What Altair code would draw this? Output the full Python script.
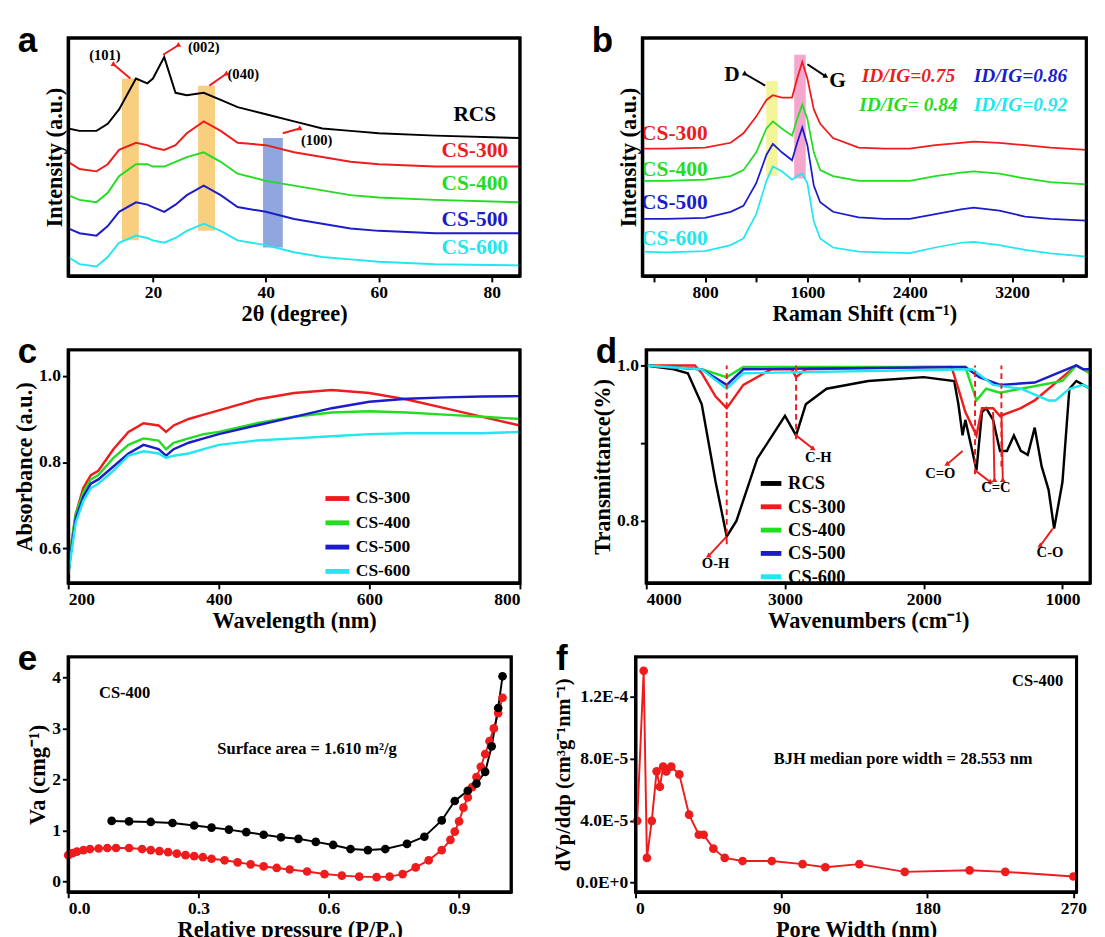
import altair as alt
import pandas as pd

SERIF = 'Liberation Serif'
SANS = 'Liberation Sans'
COLORS = {'RCS': 'black', 'CS-300': '#ee1c1c', 'CS-400': '#22dd22', 'CS-500': '#1c1ccc', 'CS-600': '#22e6f0'}
NAMES = ['RCS', 'CS-300', 'CS-400', 'CS-500', 'CS-600']

# ---- panel a: XRD
xrd_x = [5, 7, 10, 12, 14, 17, 19, 20, 22, 24, 26, 29, 32, 35, 40, 45, 50, 55, 60, 70, 85]
xrd = {
    'RCS':    [6.2, 6.1, 6.1, 6.4, 7.0, 8.3, 8.1, 8.3, 9.2, 7.7, 7.6, 7.7, 7.4, 7.1, 6.8, 6.5, 6.2, 6.1, 6.0, 5.9, 5.8],
    'CS-300': [4.8, 4.5, 4.4, 4.7, 5.3, 5.6, 5.5, 5.4, 5.3, 5.5, 6.0, 6.5, 6.1, 5.6, 5.5, 5.2, 5.0, 4.8, 4.7, 4.6, 4.6],
    'CS-400': [3.4, 3.2, 3.1, 3.5, 4.2, 4.7, 4.7, 4.6, 4.6, 4.8, 5.0, 5.2, 4.8, 4.3, 4.0, 3.8, 3.6, 3.4, 3.3, 3.2, 3.1],
    'CS-500': [2.0, 1.8, 1.7, 2.1, 2.7, 3.1, 3.0, 2.9, 2.7, 3.0, 3.4, 3.8, 3.4, 2.9, 2.7, 2.4, 2.2, 2.0, 1.9, 1.8, 1.8],
    'CS-600': [0.8, 0.5, 0.4, 0.8, 1.4, 1.7, 1.6, 1.5, 1.4, 1.6, 1.9, 2.2, 1.9, 1.5, 1.3, 1.0, 0.8, 0.7, 0.6, 0.5, 0.45],
}
xrd_lab_y = [6.8, 5.3, 3.9, 2.4, 1.2]
xrd_box = pd.DataFrame({'x': [14.5, 28.0, 39.5], 'x2': [17.5, 31.0, 43.0], 'y': [1.5, 1.9, 1.2], 'y2': [8.3, 8.0, 5.8],
                        'c': ['#f5b53a', '#f5b53a', '#5577cc']})
xrd_hkl = pd.DataFrame({'t': ['(101)', '(002)', '(040)', '(100)'], 'x': [11.5, 29, 36, 49], 'y': [9.3, 9.6, 8.5, 5.7]})
xrd_arrow = pd.DataFrame({'x': [16, 21.8, 30, 43], 'y': [8.3, 9.3, 8.0, 6.0], 'x2': [13, 24.5, 33, 46], 'y2': [8.9, 9.7, 8.5, 6.2]})

# ---- panel b: Raman
ram_x = [310, 500, 800, 1000, 1100, 1200, 1280, 1330, 1400, 1480, 1520, 1560, 1600, 1650, 1700, 1800, 2000, 2200,
         2400, 2600, 2800, 2900, 3100, 3300, 3500, 3780]
ram = {
    'CS-300': [5.35, 5.35, 5.4, 5.6, 6.0, 6.7, 7.4, 7.6, 7.5, 7.5, 8.3, 9.0, 8.3, 7.0, 6.4, 5.8, 5.4, 5.35, 5.35, 5.5, 5.6, 5.65, 5.6, 5.5, 5.4, 5.3],
    'CS-400': [4.0, 4.0, 4.05, 4.2, 4.45, 5.2, 6.2, 6.5, 6.2, 5.9, 6.6, 7.2, 6.6, 5.2, 4.45, 4.2, 4.0, 4.0, 4.0, 4.2, 4.35, 4.4, 4.3, 4.1, 3.95, 3.85],
    'CS-500': [2.4, 2.4, 2.45, 2.7, 2.95, 3.9, 5.1, 5.55, 5.2, 4.87, 5.6, 6.24, 5.5, 3.8, 3.1, 2.7, 2.47, 2.4, 2.4, 2.6, 2.8, 2.88, 2.75, 2.5, 2.4, 2.33],
    'CS-600': [1.03, 1.0, 1.05, 1.3, 1.58, 2.6, 4.0, 4.6, 4.4, 4.05, 4.2, 4.3, 3.9, 2.3, 1.58, 1.2, 1.03, 1.0, 0.96, 1.2, 1.4, 1.44, 1.3, 1.1, 0.95, 0.82],
}
ram_lab_y = [6.0, 4.5, 3.1, 1.6]
ram_box = pd.DataFrame({'x': [1278, 1497], 'x2': [1368, 1587], 'y': [4.2, 4.1], 'y2': [8.2, 9.3], 'c': ['#f0f070', '#f080b8']})
ratio = pd.DataFrame({'t': ['ID/IG=0.75', 'ID/IG=0.86', 'ID/IG= 0.84', 'ID/IG=0.92'],
                      'x': [2390, 3265, 2390, 3265], 'y': [8.4, 8.4, 7.2, 7.2],
                      'c': ['CS-300', 'CS-500', 'CS-400', 'CS-600']})
ram_arrow = pd.DataFrame({'x': [1270, 1600], 'y': [8.0, 8.9], 'x2': [1110, 1740], 'y2': [8.5, 8.4]})

# ---- panel c: UV-vis absorbance
uv_x = [200, 205, 210, 220, 230, 240, 260, 280, 300, 320, 330, 340, 360, 380, 400, 450, 500, 550, 600, 650, 700, 750, 800]
uv = {
    'CS-300': [0.54, 0.62, 0.68, 0.74, 0.77, 0.78, 0.83, 0.87, 0.89, 0.885, 0.87, 0.885, 0.90, 0.91, 0.92, 0.945, 0.96, 0.967, 0.96, 0.945, 0.925, 0.905, 0.885],
    'CS-400': [0.54, 0.62, 0.68, 0.73, 0.76, 0.77, 0.81, 0.84, 0.855, 0.85, 0.83, 0.845, 0.855, 0.865, 0.87, 0.89, 0.905, 0.915, 0.918, 0.915, 0.91, 0.905, 0.90],
    'CS-500': [0.54, 0.61, 0.67, 0.72, 0.75, 0.76, 0.79, 0.82, 0.84, 0.83, 0.815, 0.83, 0.845, 0.855, 0.865, 0.885, 0.905, 0.925, 0.94, 0.947, 0.95, 0.952, 0.953],
    'CS-600': [0.54, 0.60, 0.66, 0.71, 0.74, 0.75, 0.78, 0.815, 0.825, 0.82, 0.81, 0.815, 0.82, 0.83, 0.84, 0.85, 0.855, 0.86, 0.865, 0.867, 0.867, 0.867, 0.87],
}

# ---- panel d: FTIR
ir = {
    'RCS': ([4000, 3800, 3700, 3600, 3500, 3420, 3350, 3200, 3000, 2920, 2850, 2700, 2400, 2000, 1780, 1750, 1720, 1700,
             1650, 1620, 1580, 1550, 1500, 1450, 1400, 1350, 1300, 1250, 1200, 1150, 1100, 1060, 1000, 950, 900, 850, 800],
            [1.0, 0.995, 0.99, 0.95, 0.85, 0.78, 0.80, 0.88, 0.935, 0.91, 0.95, 0.97, 0.98, 0.985, 0.98, 0.95, 0.91, 0.93,
             0.89, 0.865, 0.94, 0.945, 0.93, 0.89, 0.89, 0.91, 0.89, 0.885, 0.92, 0.87, 0.84, 0.79, 0.85, 0.97, 0.98, 0.975, 0.97]),
    'CS-300': ([4000, 3650, 3600, 3500, 3420, 3300, 3100, 2950, 2920, 2850, 2000, 1800, 1750, 1700, 1620, 1580, 1500,
                1450, 1300, 1200, 1000, 900, 800],
               [1.0, 1.0, 0.99, 0.96, 0.945, 0.975, 0.995, 0.995, 0.985, 0.995, 0.998, 0.998, 0.97, 0.94, 0.91, 0.945,
                0.945, 0.935, 0.945, 0.955, 0.985, 1.0, 0.99]),
    'CS-400': ([4000, 3600, 3420, 3300, 1700, 1620, 1550, 1450, 1300, 1000, 900, 800],
               [1.0, 0.995, 0.985, 0.998, 0.998, 0.955, 0.97, 0.965, 0.97, 0.98, 1.0, 0.99]),
    'CS-500': ([4000, 3600, 3420, 3300, 1700, 1600, 1450, 1200, 900, 850, 800],
               [1.0, 0.995, 0.975, 0.995, 0.998, 0.985, 0.975, 0.978, 1.0, 0.995, 0.995]),
    'CS-600': ([4000, 3600, 3420, 3300, 1650, 1500, 1300, 1100, 1050, 950, 850, 800],
               [1.0, 0.995, 0.97, 0.99, 0.995, 0.975, 0.97, 0.955, 0.955, 0.97, 0.975, 0.97]),
}
ir_marks = pd.DataFrame({'x': [3420, 2920, 1630, 1440], 'y': [0.77, 0.905, 0.86, 0.87]})
ir_labels = pd.DataFrame({'t': ['O-H', 'C-H', 'C=O', 'C=C', 'C-O'], 'x': [3500, 2760, 1880, 1480, 1090],
                          'y': [0.745, 0.882, 0.862, 0.843, 0.76]})
ir_arrow = pd.DataFrame({'x': [3420, 2920, 1720, 1630, 1500, 1440, 1070], 'y': [0.78, 0.91, 0.89, 0.865, 0.94, 0.94, 0.79],
                         'x2': [3550, 2800, 1830, 1520, 1490, 1430, 1160], 'y2': [0.755, 0.893, 0.873, 0.85, 0.852, 0.852, 0.768]})

# ---- panel e: N2 isotherm
iso_ads_x = [0.0, 0.01, 0.02, 0.035, 0.05, 0.07, 0.09, 0.11, 0.14, 0.17, 0.19, 0.21, 0.23, 0.25, 0.27, 0.29, 0.31, 0.33,
             0.36, 0.39, 0.42, 0.45, 0.48, 0.51, 0.55, 0.59, 0.63, 0.67, 0.71, 0.74, 0.77, 0.80, 0.83, 0.86, 0.88, 0.89,
             0.90, 0.91, 0.92, 0.93, 0.94, 0.95, 0.96, 0.97, 0.98, 0.99, 1.0]
iso_ads_y = [0.52, 0.56, 0.59, 0.62, 0.64, 0.65, 0.66, 0.66, 0.66, 0.64, 0.62, 0.60, 0.58, 0.55, 0.52, 0.50, 0.48, 0.45,
             0.42, 0.38, 0.34, 0.30, 0.27, 0.24, 0.20, 0.15, 0.12, 0.10, 0.09, 0.10, 0.15, 0.28, 0.42, 0.62, 0.82, 0.98,
             1.18, 1.45, 1.65, 1.85, 2.05, 2.25, 2.5, 2.75, 3.0, 3.3, 3.6]
iso_des_x = [0.10, 0.14, 0.19, 0.24, 0.29, 0.33, 0.37, 0.41, 0.45, 0.49, 0.53, 0.57, 0.61, 0.65, 0.69, 0.73, 0.78, 0.82,
             0.86, 0.89, 0.92, 0.94, 0.96, 0.975, 0.99, 1.0]
iso_des_y = [1.19, 1.18, 1.17, 1.15, 1.10, 1.06, 1.02, 0.97, 0.92, 0.87, 0.84, 0.78, 0.72, 0.64, 0.62, 0.64, 0.74, 0.88,
             1.20, 1.58, 1.78, 1.92, 2.15, 2.65, 3.4, 4.02]

# ---- panel f: BJH pore distribution
pore_w = [1, 5, 7, 10, 13, 15, 17, 19, 22, 27, 33, 39, 42, 48, 55, 66, 84, 103, 117, 138, 166, 206, 228, 270]
pore_v = [4.0e-5, 1.37e-4, 1.6e-5, 4.0e-5, 7.2e-5, 6.2e-5, 7.5e-5, 7.2e-5, 7.5e-5, 7.0e-5, 4.4e-5, 3.1e-5, 3.1e-5,
          2.2e-5, 1.6e-5, 1.4e-5, 1.4e-5, 1.2e-5, 1.0e-5, 1.2e-5, 0.7e-5, 0.8e-5, 0.7e-5, 0.4e-5]


def long(xs, series):
    rows = []
    for name, ys in series.items():
        xx = xs[name][0] if isinstance(xs, dict) else xs
        yy = xs[name][1] if isinstance(xs, dict) else ys
        for i, (a, b) in enumerate(zip(xx, yy)):
            rows.append({'x': a, 'y': b, 's': name, 'i': i})
    return pd.DataFrame(rows)


def cscale(names):
    return alt.Scale(domain=names, range=[COLORS[n] for n in names])


def arrows(df, color='#ee1c1c'):
    # short pointer lines from the peaks to their labels, with a small head at the label end
    seg = alt.Chart(df).mark_rule(color=color, strokeWidth=2).encode(x='x:Q', y='y:Q', x2='x2:Q', y2='y2:Q')
    head = alt.Chart(df).mark_point(shape='triangle', filled=True, color=color, size=35, opacity=1).encode(
        x='x2:Q', y='y2:Q')
    return seg + head


def deco(ch, xd, yd, dx=-52):
    # thick black frame round the plot area (scale domain corners) plus the panel letter
    corners = pd.DataFrame({'x': [xd[0]], 'x2': [xd[1]], 'y': [yd[0]], 'y2': [yd[1]]})
    frame = alt.Chart(corners).mark_rect(filled=False, stroke='black', strokeWidth=3, fillOpacity=0).encode(
        x='x:Q', x2='x2:Q', y='y:Q', y2='y2:Q')
    lab = alt.Chart(pd.DataFrame({'t': [ch]})).mark_text(
        font=SANS, fontWeight='bold', fontSize=36, align='left', baseline='top').encode(
        x=alt.value(dx), y=alt.value(-14), text='t:N')
    return frame + lab


WA, WB = 465, 457
HA, HC, HE = 245, 240, 242
XA, YA = [5, 85], [0, 10]
XB, YB = [310, 3780], [0, 10]
XC, YC = [200, 800], [0.52, 1.06]
XD, YD = [4000, 800], [0.72, 1.02]
XE, YE = [0, 1.02], [-0.2, 4.4]
XF, YF = [0, 272], [-0.6e-5, 1.46e-4]

# a
xs_a = alt.X('x:Q', scale=alt.Scale(domain=XA, nice=False), title='2θ (degree)', axis=alt.Axis(values=[20, 40, 60, 80]))
ys_a = alt.Y('y:Q', scale=alt.Scale(domain=YA), title='Intensity (a.u.)', axis=alt.Axis(labels=False, ticks=False))
boxes_a = alt.Chart(xrd_box).mark_rect(opacity=0.65).encode(x=xs_a, x2='x2', y=ys_a, y2='y2', color=alt.Color('c:N', scale=None))
lines_a = alt.Chart(long(xrd_x, xrd)).mark_line(strokeWidth=2).encode(
    x=xs_a, y=ys_a, order='i:Q', color=alt.Color('s:N', scale=cscale(NAMES), legend=None))
labs_a = alt.Chart(pd.DataFrame({'t': NAMES, 'x': [77] * 5, 'y': xrd_lab_y})).mark_text(
    font=SERIF, fontWeight='bold', fontSize=22).encode(
    x='x:Q', y='y:Q', text='t:N', color=alt.Color('t:N', scale=cscale(NAMES), legend=None))
hkl_a = alt.Chart(xrd_hkl).mark_text(font=SERIF, fontWeight='bold', fontSize=15).encode(x='x:Q', y='y:Q', text='t:N')
pa = alt.layer(boxes_a, lines_a, labs_a, hkl_a, arrows(xrd_arrow), deco('a', XA, YA)).properties(width=WA, height=HA)

# b
names_b = NAMES[1:]
xs_b = alt.X('x:Q', scale=alt.Scale(domain=XB, nice=False), title='Raman Shift (cm⁻¹)',
             axis=alt.Axis(values=[400, 800, 1200, 1600, 2000, 2400, 2800, 3200, 3600],
                           labelExpr="datum.value % 800 == 0 ? datum.value : ''"))
ys_b = alt.Y('y:Q', scale=alt.Scale(domain=YB), title='Intensity (a.u.)', axis=alt.Axis(labels=False, ticks=False))
boxes_b = alt.Chart(ram_box).mark_rect(opacity=0.7).encode(x=xs_b, x2='x2', y=ys_b, y2='y2', color=alt.Color('c:N', scale=None))
lines_b = alt.Chart(long(ram_x, ram)).mark_line(strokeWidth=1.8).encode(
    x=xs_b, y=ys_b, order='i:Q', color=alt.Color('s:N', scale=cscale(names_b), legend=None))
labs_b = alt.Chart(pd.DataFrame({'t': names_b, 'x': [560] * 4, 'y': ram_lab_y})).mark_text(
    font=SERIF, fontWeight='bold', fontSize=22).encode(
    x='x:Q', y='y:Q', text='t:N', color=alt.Color('t:N', scale=cscale(names_b), legend=None))
rat_b = alt.Chart(ratio).mark_text(font=SERIF, fontWeight='bold', fontStyle='italic', fontSize=20).encode(
    x='x:Q', y='y:Q', text='t:N', color=alt.Color('c:N', scale=cscale(names_b), legend=None))
dg_b = alt.Chart(pd.DataFrame({'t': ['D', 'G'], 'x': [1010, 1835], 'y': [8.5, 8.25]})).mark_text(
    font=SERIF, fontWeight='bold', fontSize=22).encode(x='x:Q', y='y:Q', text='t:N')
pb = alt.layer(boxes_b, lines_b, labs_b, rat_b, dg_b, arrows(ram_arrow, 'black'),
               deco('b', XB, YB)).properties(width=WB, height=HA)

# c
xs_c = alt.X('x:Q', scale=alt.Scale(domain=XC, nice=False), title='Wavelength (nm)', axis=alt.Axis(values=[200, 400, 600, 800]))
ys_c = alt.Y('y:Q', scale=alt.Scale(domain=YC, nice=False), title='Absorbance (a.u.)',
             axis=alt.Axis(values=[0.6, 0.8, 1.0], format='.1f'))
pc = alt.layer(
    alt.Chart(long(uv_x, uv)).mark_line(strokeWidth=2.5).encode(
        x=xs_c, y=ys_c, order='i:Q',
        color=alt.Color('s:N', scale=cscale(names_b), title=None,
                        legend=alt.Legend(orient='none', legendX=262, legendY=138, symbolType='stroke',
                                          symbolStrokeWidth=5, symbolSize=600, labelFont=SERIF,
                                          labelFontWeight='bold', labelFontSize=18, rowPadding=-3))),
    deco('c', XC, YC)).properties(width=WA, height=HC)

# d
xs_d = alt.X('x:Q', scale=alt.Scale(domain=XD, nice=False), title='Wavenumbers (cm⁻¹)',
             axis=alt.Axis(values=[4000, 3000, 2000, 1000], format='d'))
ys_d = alt.Y('y:Q', scale=alt.Scale(domain=YD, nice=False), title='Transmittance(%)',
             axis=alt.Axis(values=[0.8, 0.9, 1.0], labelExpr="datum.value == 0.9 ? '' : format(datum.value, '.1f')"))
dash_d = alt.Chart(ir_marks).mark_rule(color='#ee1c1c', strokeDash=[6, 4], strokeWidth=2).encode(
    x=xs_d, y=ys_d, y2=alt.datum(1.0))
lines_d = alt.Chart(long(ir, ir)).mark_line(strokeWidth=2.5).encode(
    x=xs_d, y=ys_d, order='i:Q',
    color=alt.Color('s:N', scale=cscale(NAMES), title=None,
                    legend=alt.Legend(orient='none', legendX=115, legendY=124, symbolType='stroke',
                                      symbolStrokeWidth=5, symbolSize=450, labelFont=SERIF,
                                      labelFontWeight='bold', labelFontSize=19, rowPadding=-4)))
lab_d = alt.Chart(ir_labels).mark_text(font=SERIF, fontWeight='bold', fontSize=15).encode(x='x:Q', y='y:Q', text='t:N')
pd_ = alt.layer(lines_d, dash_d, arrows(ir_arrow), lab_d, deco('d', XD, YD)).properties(width=WB, height=HC)

# e
iso = pd.concat([
    pd.DataFrame({'x': iso_ads_x, 'y': iso_ads_y, 's': 'ads', 'i': range(len(iso_ads_x))}),
    pd.DataFrame({'x': iso_des_x, 'y': iso_des_y, 's': 'des', 'i': range(len(iso_des_x))}),
])
xs_e = alt.X('x:Q', scale=alt.Scale(domain=XE, nice=False), title='Relative pressure (P/P₀)',
             axis=alt.Axis(values=[0, 0.3, 0.6, 0.9], format='.1f'))
ys_e = alt.Y('y:Q', scale=alt.Scale(domain=YE, nice=False), title='Va (cmg⁻¹)',
             axis=alt.Axis(values=[0, 1, 2, 3, 4], format='d'))
col_e = alt.Color('s:N', scale=alt.Scale(domain=['ads', 'des'], range=['#ee1c1c', 'black']), legend=None)
pe = alt.layer(
    alt.Chart(iso).mark_line(strokeWidth=2).encode(x=xs_e, y=ys_e, order='i:Q', color=col_e),
    alt.Chart(iso).mark_circle(size=80, opacity=1).encode(x=xs_e, y=ys_e, color=col_e),
    alt.Chart(pd.DataFrame({'t': ['CS-400', 'Surface area = 1.610 m²/g'], 'x': [0.13, 0.55], 'y': [3.7, 2.6]})).mark_text(
        font=SERIF, fontWeight='bold', fontSize=17).encode(x='x:Q', y='y:Q', text='t:N'),
    deco('e', XE, YE)).properties(width=WA - 9, height=HE)

# f
WF = WB - 3
xs_f = alt.X('x:Q', scale=alt.Scale(domain=XF, nice=False), title='Pore Width (nm)', axis=alt.Axis(values=[0, 90, 180, 270]))
ys_f = alt.Y('y:Q', scale=alt.Scale(domain=YF, nice=False), title='dVp/ddp (cm³g⁻¹nm⁻¹)',
             axis=alt.Axis(values=[0, 4e-5, 8e-5, 1.2e-4], titleFontSize=21,
                           labelExpr="datum.value < 1e-6 ? '0.0E+0' : datum.value < 5e-5 ? '4.0E-5' : datum.value < 1e-4 ? '8.0E-5' : '1.2E-4'"))
pore = pd.DataFrame({'x': pore_w, 'y': pore_v})
pf = alt.layer(
    alt.Chart(pore).mark_line(color='#ee1c1c', strokeWidth=2).encode(x=xs_f, y=ys_f),
    alt.Chart(pore).mark_circle(color='#ee1c1c', size=80, opacity=1).encode(x=xs_f, y=ys_f),
    alt.Chart(pd.DataFrame({'t': ['CS-400', 'BJH median pore width = 28.553 nm'], 'x': [248, 165],
                            'y': [1.3e-4, 8.0e-5]})).mark_text(
        font=SERIF, fontWeight='bold', fontSize=17).encode(x='x:Q', y='y:Q', text='t:N'),
    deco('f', XF, YF, dx=-82)).properties(width=WF, height=HE)

row1 = alt.hconcat(pa, pb, spacing=66)
row2 = alt.hconcat(pc, pd_, spacing=66).resolve_scale(color='independent')
row3 = alt.hconcat(pe, pf, spacing=38)
chart = alt.vconcat(row1, row2, row3, spacing=6).resolve_scale(color='independent').properties(
    background='white', padding={'left': 5, 'top': 0, 'right': 0, 'bottom': 0}
).configure_view(stroke='black', strokeWidth=3).configure_axis(
    grid=False, domain=True, domainColor='black', domainWidth=3, labelFont=SERIF, labelFontWeight='bold',
    labelFontSize=18, labelColor='black', titleFont=SERIF, titleFontWeight='bold', titleFontSize=23,
    titleColor='black', tickColor='black', tickWidth=2, tickSize=6, titlePadding=2, labelPadding=2
).configure_legend(labelColor='black')

chart.save("out.html", embed_options={"renderer": "svg", "actions": False})
